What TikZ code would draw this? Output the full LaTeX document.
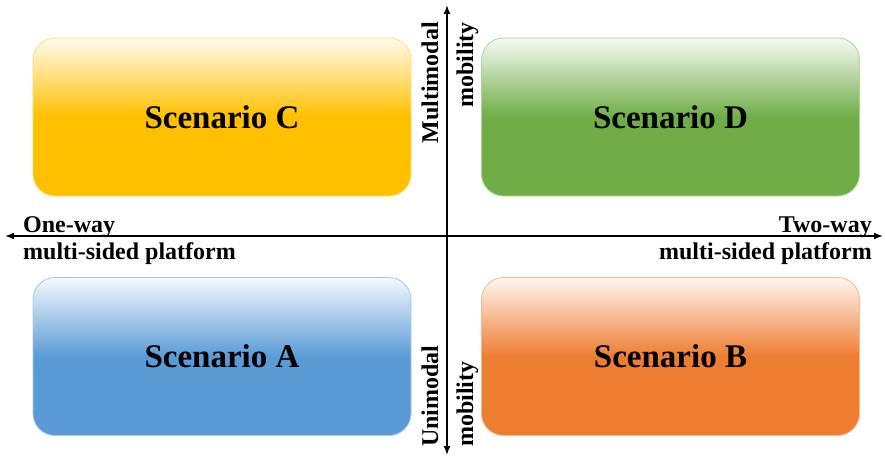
\documentclass[tikz,border=0pt]{standalone}
\usepackage{fontspec}
\setmainfont{Liberation Serif}
\usetikzlibrary{arrows.meta}
\definecolor{scenA}{HTML}{5B9BD5}
\definecolor{scenB}{HTML}{ED7D31}
\definecolor{scenC}{HTML}{FFC000}
\definecolor{scenD}{HTML}{70AD47}

\begin{document}
\begin{tikzpicture}[x=1pt,y=1pt,
	scen/.style={draw=#1!55, line width=.8pt, rounded corners=22pt, minimum width=378pt, minimum height=158pt,
		top color=#1!6, bottom color=#1, middle color=#1, font=\fontsize{33}{40}\selectfont\bfseries},
	axlab/.style={font=\fontsize{24}{28}\selectfont\bfseries, inner sep=0pt},
	axis/.style={line width=1.6pt, {Latex[length=9pt,width=7pt]}-{Latex[length=9pt,width=7pt]}}]
\useasboundingbox (0,0) rectangle (885,456);
\node[scen=scenC] (C) at (222,339) {Scenario C};
\node[scen=scenD] (D) at (670.5,339) {Scenario D};
\node[scen=scenA] (A) at (222,99.5) {Scenario A};
\node[scen=scenB] (B) at (670.5,99.5) {Scenario B};
\coordinate (west) at (5,220);
\coordinate (east) at (883,220);
\coordinate (south) at (447,1);
\coordinate (north) at (447,451);
\draw[axis] (west) -- (east);
\draw[axis] (south) -- (north);
\node[axlab, anchor=base west] (oneway) at (23,224) {One-way};
\node[axlab, anchor=base west] (oneplat) at (23,196.5) {multi-sided platform};
\node[axlab, anchor=base east] (twoway) at (872,224) {Two-way};
\node[axlab, anchor=base east] (twoplat) at (872,196.5) {multi-sided platform};
\node[axlab, rotate=90, anchor=base east] (multi) at (438,434) {Multimodal};
\node[axlab, rotate=90, anchor=base east] (multimob) at (473,434) {mobility};
\node[axlab, rotate=90, anchor=base west] (uni) at (438,9) {Unimodal};
\node[axlab, rotate=90, anchor=base west] (unimob) at (473,9) {mobility};
\end{tikzpicture}
\end{document}
